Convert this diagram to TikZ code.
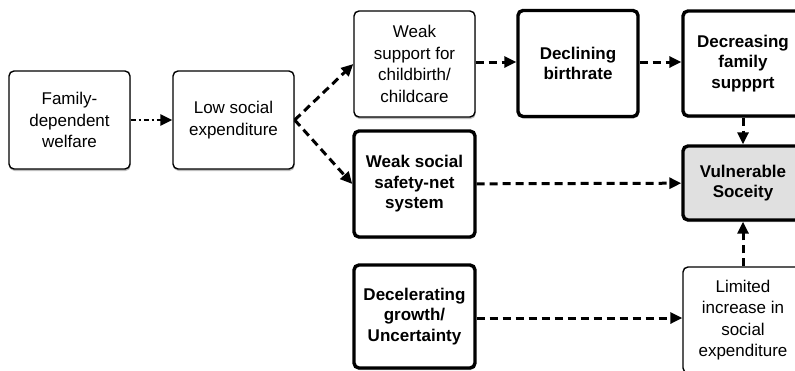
\documentclass[tikz,border=0pt]{standalone}
\usepackage{fontspec}
\setmainfont{Liberation Sans}
\usetikzlibrary{arrows.meta,shadows}
\begin{document}
\begin{tikzpicture}[x=1pt,y=-1pt,
  box/.style={draw=black, fill=white, rounded corners=5pt, align=center, inner sep=2pt,
    font=\fontsize{17}{21.5}\selectfont,
    drop shadow={shadow xshift=0.6pt, shadow yshift=-2pt, opacity=0.25, fill=black}},
  thinbox/.style={box, line width=1.4pt},
  thickbox/.style={box, line width=3.4pt, font=\fontsize{17}{20.5}\selectfont\bfseries},
  conn/.style={line width=3pt, dash pattern=on 8pt off 5pt, -{Triangle[length=12pt,width=11pt]}},
  conndot/.style={line width=2.6pt, dash pattern=on 5pt off 3pt on 2pt off 3pt, -{Triangle[length=12pt,width=11pt]}}
]
\clip (0,0) rectangle (795,370);
\fill[white] (0,0) rectangle (795,370);

\node[thinbox, minimum width=121pt, minimum height=98pt] (fam) at (69.5,120) {Family-\\dependent\\welfare};
\node[thinbox, minimum width=121pt, minimum height=98pt] (low) at (233.5,120) {Low social\\expenditure};
\node[thinbox, minimum width=121pt, minimum height=106pt] (ws) at (414.5,64) {Weak\\support for\\childbirth/\\childcare};
\node[thickbox, minimum width=120pt, minimum height=106pt] (dec) at (578,63.5) {Declining\\birthrate};
\node[thickbox, minimum width=120pt, minimum height=105pt] (dfs) at (743,63.5) {Decreasing\\family\\suppprt};
\node[thickbox, minimum width=121pt, minimum height=106pt] (wss) at (414.5,184) {Weak social\\safety-net\\system};
\node[thickbox, minimum width=120pt, minimum height=74pt, fill={rgb,255:red,224;green,224;blue,224}] (vul) at (743,183) {Vulnerable\\Soceity};
\node[thickbox, minimum width=121pt, minimum height=103pt] (dg) at (414.5,316.5) {Decelerating\\growth/\\Uncertainty};
\node[thinbox, minimum width=120pt, minimum height=106pt] (lim) at (743,320) {Limited\\increase in\\social\\expenditure};

\draw[conndot] (fam) -- (low);
\draw[conn] (low.east) -- (ws.west);
\draw[conn] (low.east) -- (wss.west);
\draw[conn] (ws.east |- 0,62) -- (dec.west |- 0,62);
\draw[conn] (dec.east |- 0,62) -- (dfs.west |- 0,62);
\draw[conn] (wss) -- (vul);
\draw[conn] (dg.east |- 0,318) -- (lim.west |- 0,318);
\draw[conn] (dfs) -- (vul);
\draw[conn] (lim) -- (vul);
\end{tikzpicture}
\end{document}
